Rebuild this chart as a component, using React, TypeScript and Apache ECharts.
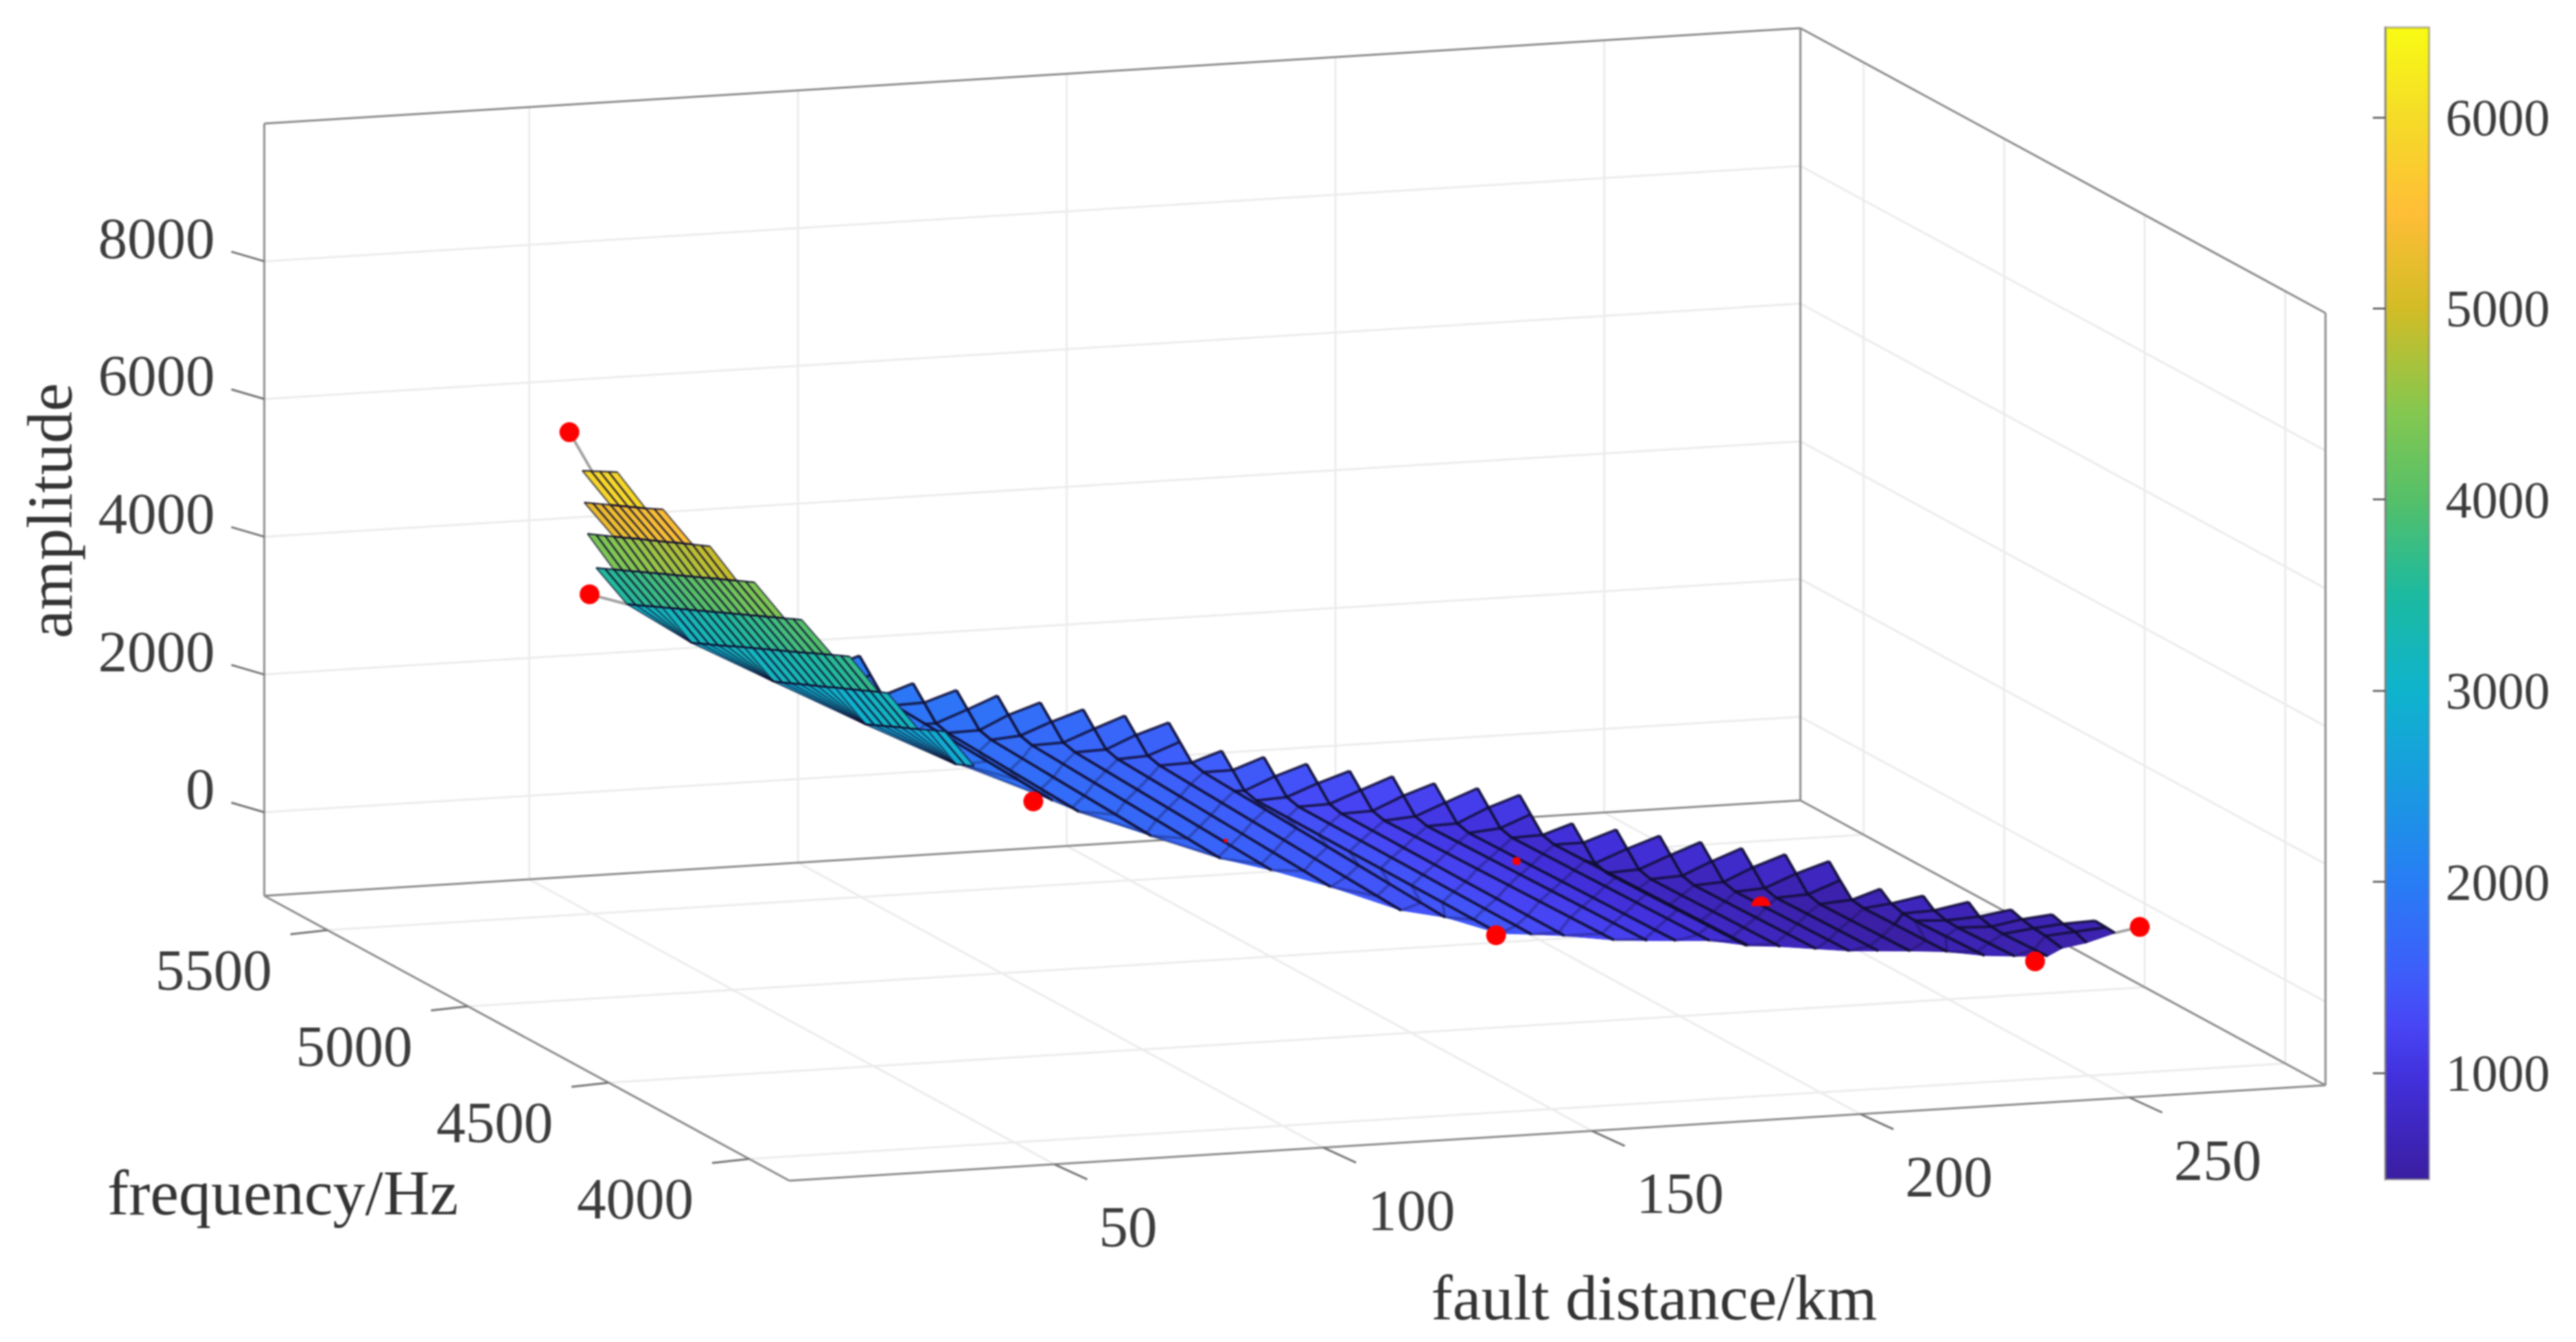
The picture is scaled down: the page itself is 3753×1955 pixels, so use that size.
import React, { useEffect, useRef } from "react";
import * as echarts from "echarts";

const WIDTH = 3753;
const HEIGHT = 1955;
const FONT = "'Liberation Serif', serif";

// axis limits of the 3-D box
const distanceRange = [0.7, 286.5];
const frequencyRange = [3857, 5725];
const amplitudeRange = [-1214, 10000];

const distanceTicks = [50, 100, 150, 200, 250];
const frequencyTicks = [4000, 4500, 5000, 5500];
const amplitudeTicks = [0, 2000, 4000, 6000, 8000];
const colorbarTicks = [1000, 2000, 3000, 4000, 5000, 6000];
const colorbarRange = [443, 6470];

const colorLevels = [443, 700, 1000, 1250, 1500, 2000, 2500, 3000, 3500, 4000, 4460, 5000, 5500, 6000, 6470];
const colorValues = [
  [58, 30, 160], [62, 38, 190], [66, 50, 222], [72, 70, 245], [62, 92, 250], [40, 125, 245], [25, 155, 225],
  [15, 180, 205], [28, 186, 160], [85, 192, 105], [133, 200, 80], [210, 188, 38], [255, 190, 55], [245, 220, 40], [249, 251, 20],
];

// measured points: distance, frequency, amplitude
const markerPoints = [
  [31.9, 5236, 6450], [60.6, 5713, 2900], [96.4, 4819, 1700], [147.3, 4146, 1000], [267.9, 4162, 500], [237.7, 3957, 600],
];
const smallMarkers = [[171.4, 4534, 1100, 6], [120.7, 4599, 1500, 3]];
const halfMarker = [204.7, 4301, 800];

// fine part of the surface: one entry per row
const rowDistanceStart = [30.7, 27.6, 41.8, 47.6, 59.6, 60.6, 64.5, 70.9, 75.8];
const rowDistanceEnd = [36.1, 36.5, 47.8, 50.5, 61.7, 61.6, 67.3, 73.5, 74.1];
const rowFrequencyStart = [5167, 5101, 5361, 5441, 5560, 5350, 5133, 4928, 4700];
const rowFrequencyEnd = [5146, 4991, 5040, 4934, 4979, 4807, 4781, 4696, 4603];
const rowFirstColumn = [0, -3, -6, -8, -8, -4, 2, 9, 16];
const rowAmplitudes = [
  [6050, 6050, 6050, 6050, 6050],
  [5750, 5760, 5770, 5780, 5790, 5800, 5810, 5820, 5835, 5850],
  [4650, 4685, 4720, 4755, 4790, 4830, 4865, 4900, 4935, 4970, 5010, 5045, 5080, 5115, 5150],
  [3950, 4000, 4050, 4100, 4150, 4200, 4250, 4300, 4350, 4400, 4450, 4500, 4550, 4600, 4650, 4700, 4750, 4800, 4850],
  [3100, 3150, 3205, 3260, 3310, 3365, 3415, 3470, 3520, 3575, 3625, 3680, 3730, 3785, 3835, 3890, 3940, 3995, 4045, 4100, 4150],
  [3000, 3055, 3110, 3165, 3220, 3280, 3335, 3390, 3445, 3500, 3555, 3610, 3665, 3720, 3780, 3835, 3890, 3945, 4000],
  [2900, 2945, 2990, 3040, 3085, 3130, 3175, 3225, 3270, 3315, 3360, 3410, 3455, 3500],
  [2700, 2745, 2790, 2835, 2880, 2920, 2965, 3010, 3055, 3100],
  [2600, 2700, 2800],
];

// coarse part of the surface: one entry per fault distance
const columnDistance = [98.7, 104.8, 106.3, 112.5, 118.7, 124.8, 131.3, 137.6, 144.1, 145.5, 151.9, 158.2, 164.3, 170.8, 176.7, 183.5, 189.5, 190.6, 197.1, 203.5, 209.5, 215.5, 221.9, 228.2, 229.5, 235.6, 242.3, 247.9, 254.1, 260];
const columnFrequencyTop = [5634, 5598, 5436, 5400, 5373, 5337, 5309, 5281, 5249, 5088, 5060, 5028, 4992, 4964, 4928, 4904, 4869, 4703, 4671, 4639, 4607, 4576, 4544, 4508, 4351, 4315, 4282, 4238, 4210, 4170];
const columnFrequencyLow = [5119, 4911, 4847, 4708, 4580, 4515, 4430, 4299, 4267, 4101, 4108, 4112, 4052, 4058, 4069, 4079, 4057, 4084, 4087, 4082, 4079, 4090, 4100, 4088, 3980, 3989, 4000, 4056, 4087, 4099];
const frequencyOffsets = [0, 39, 81, 123, 233, 344, 454, 565, 675, 785, 896, 1006];
const columnStepAfter = [1, 8, 16, 23];
const columnAmplitudes = [
  [2100, 1907, 1700, 1652, 1626, 1600, 1574, 1560],
  [2050, 1857, 1650, 1602, 1576, 1550, 1524, 1498, 1472, 1470],
  [2000, 1807, 1600, 1552, 1526, 1500, 1474, 1448, 1442],
  [1950, 1757, 1550, 1502, 1476, 1450, 1424, 1398, 1372, 1368],
  [1900, 1707, 1500, 1452, 1426, 1400, 1374, 1348, 1322, 1296, 1294],
  [1850, 1657, 1450, 1402, 1376, 1350, 1324, 1298, 1272, 1246, 1237],
  [1780, 1587, 1380, 1332, 1306, 1280, 1254, 1228, 1202, 1176, 1154],
  [1720, 1527, 1320, 1272, 1246, 1220, 1194, 1168, 1142, 1116, 1090, 1070],
  [1660, 1467, 1260, 1212, 1186, 1160, 1134, 1108, 1082, 1056, 1030, 1010],
  [1600, 1407, 1200, 1152, 1150, 1148, 1146, 1144, 1142, 1140, 1138, 1136],
  [1540, 1347, 1140, 1092, 1090, 1088, 1086, 1084, 1082, 1080, 1078, 1076],
  [1480, 1287, 1080, 1032, 1030, 1028, 1026, 1024, 1022, 1020, 1018, 1016],
  [1430, 1237, 1030, 982, 992, 1002, 1012, 1022, 1032, 1042, 1052, 1056],
  [1380, 1187, 980, 932, 942, 952, 962, 972, 982, 992, 1002, 1003],
  [1330, 1137, 930, 882, 892, 902, 912, 922, 932, 942, 949],
  [1280, 1087, 880, 832, 842, 852, 862, 872, 882, 892, 895],
  [1230, 1037, 830, 782, 792, 802, 812, 822, 832, 842, 844],
  [1180, 987, 780, 732, 742, 752, 762, 772, 777],
  [1130, 937, 730, 682, 692, 702, 712, 722, 724],
  [1080, 887, 680, 632, 642, 652, 662, 671],
  [1030, 837, 630, 582, 592, 602, 612, 619],
  [980, 787, 580, 532, 542, 552, 562, 565],
  [930, 737, 530, 482, 492, 502, 511],
  [880, 690, 500, 470, 480, 490, 497],
  [820, 695, 642, 630, 649, 668, 673],
  [770, 645, 592, 580, 599, 615],
  [720, 595, 542, 530, 549, 557],
  [680, 627, 589, 571, 521],
  [640, 592, 571, 503],
  [610, 600, 590],
];
// amplitude read from the surface colour in the low-lying rows, with the
// matching shift along the line of sight
const rowLift = [0, 95, 210, 260, 280, 290, 300, 310, 320, 330, 340, 350];
const columnLiftShare = [1, 1, 1, 1, 1, 1, 1, 1, 1, 1, 0.8, 0.7, 0.5, 0.4, 0.3, 0.2, 0.1, 0, 0, 0, 0, 0, 0, 0, 0, 0, 0, 0, 0, 0];

// projection of the box on the page (orthographic, like the MATLAB view)
const origin = [385, 1305];
const distanceVector = [2238, -139];
const frequencyVector = [765, 415];
const amplitudeVector = [0, -1125];

function project(d: number, f: number, a: number) {
  const u = (d - distanceRange[0]) / (distanceRange[1] - distanceRange[0]);
  const v = (frequencyRange[1] - f) / (frequencyRange[1] - frequencyRange[0]);
  const w = (a - amplitudeRange[0]) / (amplitudeRange[1] - amplitudeRange[0]);
  return [
    origin[0] + u * distanceVector[0] + v * frequencyVector[0] + w * amplitudeVector[0],
    origin[1] + u * distanceVector[1] + v * frequencyVector[1] + w * amplitudeVector[1],
  ];
}

function levelColor(z: number) {
  const c = Math.max(colorLevels[0], Math.min(colorLevels[colorLevels.length - 1], z));
  let i = 0;
  while (i < colorLevels.length - 2 && c > colorLevels[i + 1]) i++;
  const t = (c - colorLevels[i]) / (colorLevels[i + 1] - colorLevels[i]);
  const rgb = colorValues[i].map((v, k) => Math.round(v + (colorValues[i + 1][k] - v) * t));
  return `rgb(${rgb[0]},${rgb[1]},${rgb[2]})`;
}

type P3 = number[];
type Cell = { pts: P3[]; edges: [P3, P3, number][] };

function buildCoarseCells(): Cell[] {
  const cols: P3[][] = columnAmplitudes.map((list, i) =>
    list.map((a, r) => {
      const lift = rowLift[r] * columnLiftShare[i];
      const f = r === list.length - 1 ? columnFrequencyLow[i] : columnFrequencyTop[i] - frequencyOffsets[r];
      return [columnDistance[i] - 0.0212 * lift, f - 0.408 * lift, a + lift];
    })
  );
  const cells: Cell[] = [];
  for (let i = 0; i < cols.length - 1; i++) {
    const L = cols[i];
    const R = cols[i + 1];
    const s = columnStepAfter.includes(i) ? 2 : 1;
    let l = s;
    let r = 0;
    while (l < L.length - 1 || r < R.length - 1) {
      const a = L[l];
      const b = R[r];
      const c = R[r + 1];
      const e = L[l + 1];
      const rowOp = r <= 2 ? 0.8 : 0.3;
      if (c && e) {
        cells.push({ pts: [a, b, c, e], edges: [[a, b, rowOp], [b, c, 0.9]] });
        l++; r++;
      } else if (c) {
        cells.push({ pts: [a, b, c], edges: [[a, b, rowOp], [b, c, 0.9]] });
        r++;
      } else {
        cells.push({ pts: [a, b, e], edges: [[a, b, rowOp]] });
        l++;
      }
    }
  }
  return cells;
}

function buildFineCells(): Cell[] {
  const rows = rowAmplitudes.map((list, j) =>
    list.map((a, k) => {
      const t = k / (list.length - 1);
      return [
        rowDistanceStart[j] + (rowDistanceEnd[j] - rowDistanceStart[j]) * t,
        rowFrequencyStart[j] + (rowFrequencyEnd[j] - rowFrequencyStart[j]) * t,
        a,
      ];
    })
  );
  const at = (j: number, c: number) => rows[j][c - rowFirstColumn[j]];
  const cells: Cell[] = [];
  const H = 0.6;
  for (let j = 0; j < rows.length - 1; j++) {
    const topStart = rowFirstColumn[j];
    const topEnd = topStart + rows[j].length - 1;
    const botStart = rowFirstColumn[j + 1];
    const botEnd = botStart + rows[j + 1].length - 1;
    for (let c = topStart; c < botStart; c++) {
      const p = [at(j, c), at(j, c + 1), at(j + 1, botStart)];
      cells.push({ pts: p, edges: [[p[0], p[1], 0.8], [p[0], p[2], H]] });
    }
    const from = Math.max(topStart, botStart);
    const to = Math.min(topEnd, botEnd);
    for (let c = from; c < to; c++) {
      const p = [at(j, c), at(j, c + 1), at(j + 1, c + 1), at(j + 1, c)];
      cells.push({ pts: p, edges: [[p[0], p[1], 0.8], [p[1], p[2], H], [p[3], p[2], 0.8], [p[0], p[3], H]] });
    }
  }
  return cells;
}

const base = { type: "custom", silent: true, clip: false, xAxisIndex: 0, yAxisIndex: 0 };

function fillSeries(cells: Cell[], z: number) {
  return {
    ...base,
    z,
    data: cells.map((_, i) => [i, i]),
    renderItem: (params: any, api: any) => {
      const cell = cells[params.dataIndex];
      const mean = cell.pts.reduce((s, p) => s + p[2], 0) / cell.pts.length;
      const fill = levelColor(mean);
      return {
        type: "polygon",
        shape: { points: cell.pts.map((p) => api.coord(project(p[0], p[1], p[2]))) },
        style: { fill, stroke: fill, lineWidth: 1 },
      };
    },
  };
}

function edgeSeries(cells: Cell[], z: number, width: number) {
  const edges = cells.reduce((all: [P3, P3, number][], c) => all.concat(c.edges), []);
  return {
    ...base,
    z,
    data: edges.map((_, i) => [i, i]),
    renderItem: (params: any, api: any) => {
      const [a, b, op] = edges[params.dataIndex];
      const pa = api.coord(project(a[0], a[1], a[2]));
      const pb = api.coord(project(b[0], b[1], b[2]));
      return {
        type: "line",
        shape: { x1: pa[0], y1: pa[1], x2: pb[0], y2: pb[1] },
        style: { stroke: `rgba(16,14,50,${op})`, lineWidth: width },
      };
    },
  };
}

type Seg = { a: P3; b: P3; color: string; width: number; offset?: number[] };

function buildFrame(): Seg[] {
  const [d0, d1] = distanceRange;
  const [f0, f1] = frequencyRange;
  const [a0, a1] = amplitudeRange;
  const segs: Seg[] = [];
  const grid = "#ececec";
  const edge = "#8c8c8c";
  distanceTicks.forEach((d) => {
    segs.push({ a: [d, f1, a0], b: [d, f1, a1], color: grid, width: 3 });
    segs.push({ a: [d, f0, a0], b: [d, f1, a0], color: grid, width: 3 });
  });
  frequencyTicks.forEach((f) => {
    segs.push({ a: [d0, f, a0], b: [d1, f, a0], color: grid, width: 3 });
    segs.push({ a: [d1, f, a0], b: [d1, f, a1], color: grid, width: 3 });
  });
  amplitudeTicks.forEach((a) => {
    segs.push({ a: [d0, f1, a], b: [d1, f1, a], color: grid, width: 3 });
    segs.push({ a: [d1, f1, a], b: [d1, f0, a], color: grid, width: 3 });
  });
  const box: [P3, P3][] = [
    [[d0, f1, a0], [d1, f1, a0]],
    [[d0, f1, a0], [d0, f0, a0]],
    [[d0, f0, a0], [d1, f0, a0]],
    [[d1, f1, a0], [d1, f0, a0]],
    [[d0, f1, a0], [d0, f1, a1]],
    [[d1, f1, a0], [d1, f1, a1]],
    [[d1, f0, a0], [d1, f0, a1]],
    [[d0, f1, a1], [d1, f1, a1]],
    [[d1, f1, a1], [d1, f0, a1]],
  ];
  box.forEach(([a, b]) => segs.push({ a, b, color: edge, width: 3 }));
  amplitudeTicks.forEach((a) => segs.push({ a: [d0, f1, a], b: [d0, f1, a], color: "#777", width: 3, offset: [-48, -14] }));
  frequencyTicks.forEach((f) => segs.push({ a: [d0, f, a0], b: [d0, f, a0], color: "#777", width: 3, offset: [-54, 6] }));
  distanceTicks.forEach((d) => segs.push({ a: [d, f0, a0], b: [d, f0, a0], color: "#777", width: 3, offset: [48, 22] }));
  return segs;
}

type Label = { at: P3; text: string; dx: number; dy: number; align: string };

function buildLabels(): Label[] {
  const out: Label[] = [];
  amplitudeTicks.forEach((a) =>
    out.push({ at: [distanceRange[0], frequencyRange[1], a], text: String(a), dx: -72, dy: -34, align: "right" })
  );
  frequencyTicks.forEach((f) =>
    out.push({ at: [distanceRange[0], f, amplitudeRange[0]], text: String(f), dx: -166, dy: 58, align: "center" })
  );
  distanceTicks.forEach((d) =>
    out.push({ at: [d, frequencyRange[0], amplitudeRange[0]], text: String(d), dx: 65, dy: 91, align: "left" })
  );
  return out;
}

export default function App() {
  const ref = useRef<HTMLDivElement>(null);
  useEffect(() => {
    document.body.style.margin = "0";
    document.body.style.background = "#ffffff";
    const chart = echarts.init(ref.current as HTMLDivElement, undefined, { renderer: "svg" });
    const frame = buildFrame();
    const labels = buildLabels();
    const coarse = buildCoarseCells();
    const fine = buildFineCells();
    const links: [P3, P3][] = [
      [markerPoints[0], [rowDistanceStart[0] + 1.5, rowFrequencyStart[0] - 5, rowAmplitudes[0][1]]],
      [markerPoints[1], [rowDistanceStart[4], rowFrequencyStart[4], rowAmplitudes[4][0]]],
      [markerPoints[4], [columnDistance[29], columnFrequencyLow[29], columnAmplitudes[29][2]]],
    ];
    const allMarkers = [...markerPoints.map((m) => [...m, 14.5]), ...smallMarkers, [...halfMarker, 0]];
    const stops = [];
    const [cMin, cMax] = colorbarRange;
    for (let i = colorLevels.length - 1; i >= 0; i--) {
      const lv = colorLevels[i];
      stops.push({ offset: (cMax - lv) / (cMax - cMin), color: levelColor(lv) });
    }
    const hiddenAxis = { show: false, type: "value" as const };
    chart.setOption({
      animation: false,
      backgroundColor: "#ffffff",
      grid: [
        { left: 0, top: 0, width: WIDTH, height: HEIGHT },
        { left: 3475, top: 40, width: 64, height: 1678 },
      ],
      xAxis: [
        { ...hiddenAxis, gridIndex: 0, min: 0, max: WIDTH },
        { ...hiddenAxis, gridIndex: 1, min: 0, max: 1 },
      ],
      yAxis: [
        { ...hiddenAxis, gridIndex: 0, min: 0, max: HEIGHT, inverse: true },
        {
          type: "value",
          gridIndex: 1,
          min: cMin,
          max: cMax,
          position: "right",
          z: 6,
          splitLine: { show: false },
          axisLine: { show: true, lineStyle: { color: "rgba(120,120,120,0.55)", width: 3 } },
          axisTick: {
            show: true,
            inside: true,
            length: 18,
            customValues: colorbarTicks,
            lineStyle: { color: "rgba(60,60,60,0.75)", width: 3 },
          },
          axisLabel: {
            customValues: colorbarTicks,
            formatter: (v: number) => String(v),
            margin: 24,
            padding: [10, 0, 0, 0],
            fontSize: 76,
            fontFamily: FONT,
            color: "#3c3c3c",
          },
        },
      ],
      graphic: [
        { type: "text", x: 72, y: 744, rotation: Math.PI / 2, originX: 0, originY: 0,
          style: { text: "amplitude", font: `93px ${FONT}`, fill: "#333333", align: "center", verticalAlign: "middle" } },
        { type: "text", x: 412, y: 1737,
          style: { text: "frequency/Hz", font: `94px ${FONT}`, fill: "#333333", align: "center", verticalAlign: "middle" } },
        { type: "text", x: 2410, y: 1890,
          style: { text: "fault distance/km", font: `94px ${FONT}`, fill: "#333333", align: "center", verticalAlign: "middle" } },
      ],
      series: [
        {
          ...base,
          z: 1,
          data: frame.map((_, i) => [i, i]),
          renderItem: (params: any, api: any) => {
            const s = frame[params.dataIndex];
            const pa = api.coord(project(s.a[0], s.a[1], s.a[2]));
            const pb = api.coord(project(s.b[0], s.b[1], s.b[2]));
            const off = s.offset || [0, 0];
            return {
              type: "line",
              shape: { x1: pa[0], y1: pa[1], x2: pb[0] + off[0], y2: pb[1] + off[1] },
              style: { stroke: s.color, lineWidth: s.width },
            };
          },
        },
        {
          ...base,
          z: 1,
          data: labels.map((_, i) => [i, i]),
          renderItem: (params: any, api: any) => {
            const l = labels[params.dataIndex];
            const p = api.coord(project(l.at[0], l.at[1], l.at[2]));
            return {
              type: "text",
              x: p[0] + l.dx,
              y: p[1] + l.dy,
              style: { text: l.text, font: `85px ${FONT}`, fill: "#3c3c3c", align: l.align, verticalAlign: "middle" },
            };
          },
        },
        {
          ...base,
          z: 2,
          data: links.map((_, i) => [i, i]),
          renderItem: (params: any, api: any) => {
            const [a, b] = links[params.dataIndex];
            const pa = api.coord(project(a[0], a[1], a[2]));
            const pb = api.coord(project(b[0], b[1], b[2]));
            return {
              type: "line",
              shape: { x1: pa[0], y1: pa[1], x2: pb[0], y2: pb[1] },
              style: { stroke: "#a0a0a0", lineWidth: 4 },
            };
          },
        },
        fillSeries(coarse, 3),
        edgeSeries(coarse, 4, 4),
        fillSeries(fine, 5),
        edgeSeries(fine, 6, 2.5),
        {
          ...base,
          z: 7,
          data: allMarkers.map((_, i) => [i, i]),
          renderItem: (params: any, api: any) => {
            const m = allMarkers[params.dataIndex];
            const p = api.coord(project(m[0], m[1], m[2]));
            if (m[3] === 0) {
              return {
                type: "sector",
                shape: { cx: p[0], cy: p[1], r: 14, r0: 0, startAngle: Math.PI, endAngle: 2 * Math.PI },
                style: { fill: "#ff0000" },
              };
            }
            return { type: "circle", shape: { cx: p[0], cy: p[1], r: m[3] }, style: { fill: "#ff0000" } };
          },
        },
        {
          type: "custom",
          z: 2,
          silent: true,
          clip: false,
          xAxisIndex: 1,
          yAxisIndex: 1,
          data: [[0, cMin]],
          renderItem: (_: any, api: any) => {
            const a = api.coord([0, cMax]);
            const b = api.coord([1, cMin]);
            return {
              type: "rect",
              shape: { x: a[0], y: a[1], width: b[0] - a[0], height: b[1] - a[1] },
              style: {
                fill: new echarts.graphic.LinearGradient(0, 0, 0, 1, stops),
                stroke: "rgba(120,120,120,0.55)",
                lineWidth: 3,
              },
            };
          },
        },
      ],
    });
    return () => chart.dispose();
  }, []);
  return <div ref={ref} style={{ width: WIDTH, height: HEIGHT, filter: "blur(1px)" }} />;
}
